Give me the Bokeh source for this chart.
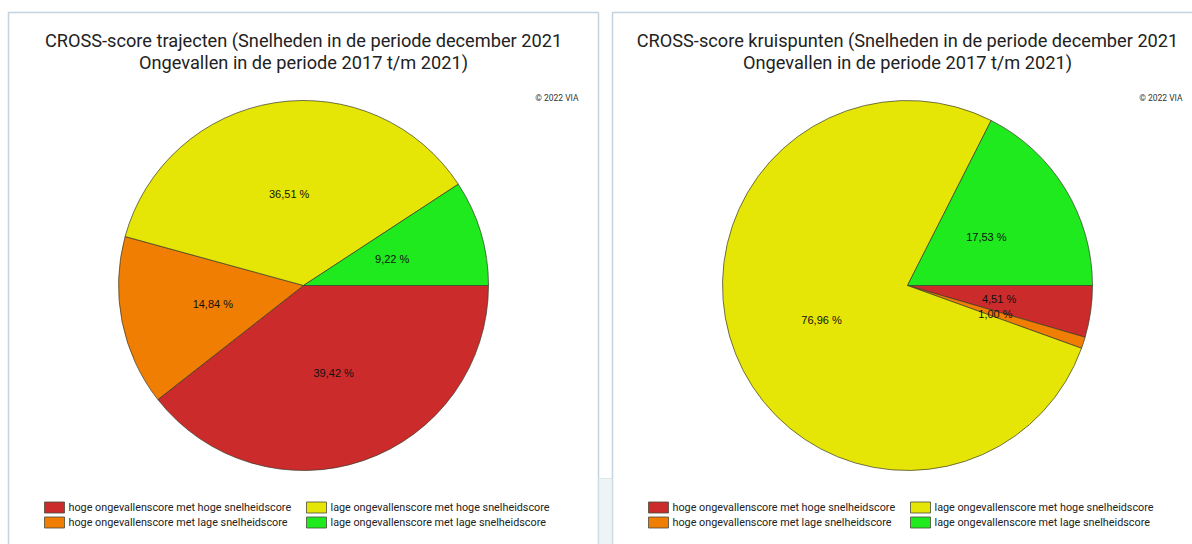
from bokeh.plotting import figure
from bokeh.models import Range1d
from bokeh.core.properties import value
from bokeh.embed import file_html
from bokeh.resources import INLINE
import math

# ---- data ----
categories = [
    "hoge ongevallenscore met hoge snelheidscore",
    "hoge ongevallenscore met lage snelheidscore",
    "lage ongevallenscore met hoge snelheidscore",
    "lage ongevallenscore met lage snelheidscore",
]
colors = ["#cc2b2c", "#ef7e03", "#e6e606", "#1eea1e"]
trajecten = [39.42, 14.84, 36.51, 9.22]
kruispunten = [4.51, 1.00, 76.96, 17.53]
titles = [
    ["CROSS-score trajecten (Snelheden in de periode december 2021",
     "Ongevallen in de periode 2017 t/m 2021)"],
    ["CROSS-score kruispunten (Snelheden in de periode december 2021",
     "Ongevallen in de periode 2017 t/m 2021)"],
]
copyright_text = "© 2022 VIA"

W, H = 1192, 544
p = figure(width=W, height=H, output_backend="svg", toolbar_location=None,
           x_range=Range1d(0, W), y_range=Range1d(-H, 0),
           min_border=0)
p.axis.visible = False
p.grid.visible = False
p.outline_line_color = None
p.background_fill_color = "white"
p.border_fill_color = "white"

TITLE_FONT = value("Roboto")
LABEL_FONT = value("Liberation Sans")
border_col = "#c3d3df"

# panel backgrounds / borders
panels = [(8, 598), (612, 1250)]
for (x0, x1) in panels:
    p.quad(left=x0, right=x1, top=-12, bottom=-600, fill_color="white",
           line_color=border_col, line_width=1.5)
# small strip between panels
p.quad(left=598.5, right=611.5, top=-478, bottom=-600, fill_color="#eef4f6",
       line_color="#dde8ee", line_width=1)

def fmt(v):
    return ("%.2f" % v).replace(".", ",") + " %"

centers = [(303, 285), (907, 285)]
R = 185
datasets = [trajecten, kruispunten]
for idx, (vals, (cx, cy)) in enumerate(zip(datasets, centers)):
    total = sum(vals)
    cum = 0.0
    starts, ends, lx, ly, labels = [], [], [], [], []
    for v in vals:
        a0 = -2 * math.pi * (cum + v) / total
        a1 = -2 * math.pi * cum / total
        starts.append(a0)
        ends.append(a1)
        mid = (a0 + a1) / 2
        lx.append(cx + 0.5 * R * math.cos(mid))
        ly.append(-cy + 0.5 * R * math.sin(mid))
        labels.append(fmt(v))
        cum += v
    p.wedge(x=[cx] * 4, y=[-cy] * 4, radius=R, radius_units="screen",
            start_angle=starts, end_angle=ends, direction="anticlock",
            fill_color=colors, line_color="#3a3a2a", line_width=0.7)
    p.text(x=lx, y=ly, text=labels, text_font=LABEL_FONT,
           text_font_size="11px", text_align="center",
           text_baseline="middle", text_color="#111111")

    # title
    p.text(x=[cx, cx], y=[-40, -62], text=titles[idx], text_font=TITLE_FONT,
           text_font_size="18.2px", text_align="center",
           text_baseline="middle", text_color="#222222")
    # copyright
    p.text(x=[cx + 275], y=[-97], text=[copyright_text], text_font=TITLE_FONT,
           text_font_size="8.5px", text_align="right",
           text_baseline="middle", text_color="#333333")

    # legend
    lx0 = cx - 259
    col_dx = 262
    pos = [(0, 0), (0, 1), (1, 0), (1, 1)]
    for k, (c, r) in enumerate(pos):
        sx = lx0 + c * col_dx
        syc = 507 + r * 15
        p.quad(left=sx, right=sx + 20, top=-(syc - 5.5), bottom=-(syc + 5.5),
               fill_color=colors[k], line_color="#4a4a3a", line_width=0.8)
        p.text(x=[sx + 24], y=[-syc], text=[categories[k]], text_font=TITLE_FONT,
               text_font_size="10.8px", text_align="left",
               text_baseline="middle", text_color="#222222")

open("out.html", "w").write(file_html(p, INLINE))
